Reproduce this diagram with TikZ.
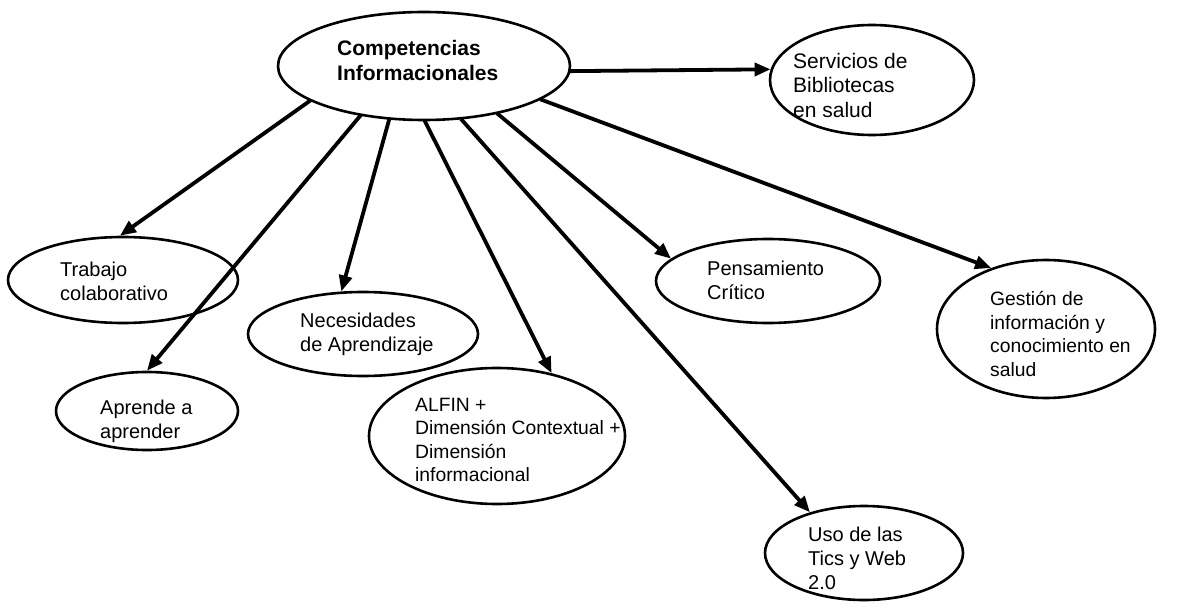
\documentclass[tikz,border=0pt]{standalone}
\usepackage{fontspec}
\setmainfont{Liberation Sans}
\usetikzlibrary{shapes.geometric,arrows.meta}

\begin{document}
\begin{tikzpicture}[x=1pt,y=-1pt,
  oval/.style={ellipse, draw, line width=2.6pt, inner sep=0pt},
  txt/.style={anchor=west, align=left, inner sep=0pt,
    font=\fontsize{20}{24}\selectfont},
  small/.style={font=\fontsize{19.3}{23.5}\selectfont},
  link/.style={line width=3.8pt,
    -{Triangle[length=16pt,width=13pt]}, shorten <=-1pt}
]
\useasboundingbox (0,0) rectangle (1204,612);

% ovals
\node[oval, minimum width=292pt, minimum height=108pt] (c) at (424,66) {};
\node[oval, minimum width=204pt, minimum height=110pt] (sb) at (872,80) {};
\node[oval, minimum width=230pt, minimum height=86pt] (tc) at (123,280) {};
\node[oval, minimum width=230pt, minimum height=84pt] (na) at (363,334) {};
\node[oval, minimum width=224pt, minimum height=84pt] (pc) at (768,281) {};
\node[oval, minimum width=218pt, minimum height=138pt] (gi) at (1046,329) {};
\node[oval, minimum width=182pt, minimum height=78pt] (aa) at (147,411) {};
\node[oval, minimum width=256pt, minimum height=136pt] (al) at (497,436) {};
\node[oval, minimum width=198pt, minimum height=94pt] (uw) at (864,553) {};

% labels
\node[txt, font=\fontsize{21}{25}\selectfont\bfseries] (c-t) at (337,60) {Competencias\\Informacionales};
\node[txt, font=\fontsize{21}{24.5}\selectfont] (sb-t) at (793,85) {Servicios de\\Bibliotecas\\en salud};
\node[txt] (tc-t) at (60,281) {Trabajo\\colaborativo};
\node[txt] (na-t) at (300,334) {Necesidades\\de Aprendizaje};
\node[txt] (pc-t) at (707,280) {Pensamiento\\Crítico};
\node[txt, small] (gi-t) at (990,334) {Gestión de\\información y\\conocimiento en\\salud};
\node[txt] (aa-t) at (100,421) {Aprende a\\aprender};
\node[txt, small] (al-t) at (415,440) {ALFIN +\\Dimensión Contextual +\\Dimensión\\informacional};
\node[txt] (uw-t) at (808,558) {Uso de las\\Tics y Web\\2.0};

% connectors
\draw[link] (c.-2.7) -- (sb.174.8);
\draw[link] (c.197.3) -- (tc.94);
\draw[link] (c.218.3) -- (aa.90);
\draw[link] (c.237.8) -- (na.117);
\draw[link] (c.271) -- (al.49.8);
\draw[link] (c.305.8) -- (uw.143.7);
\draw[link] (c.-33.9) -- (pc.167.4);
\draw[link] (c.-16) -- (gi.132.4);
\end{tikzpicture}
\end{document}
